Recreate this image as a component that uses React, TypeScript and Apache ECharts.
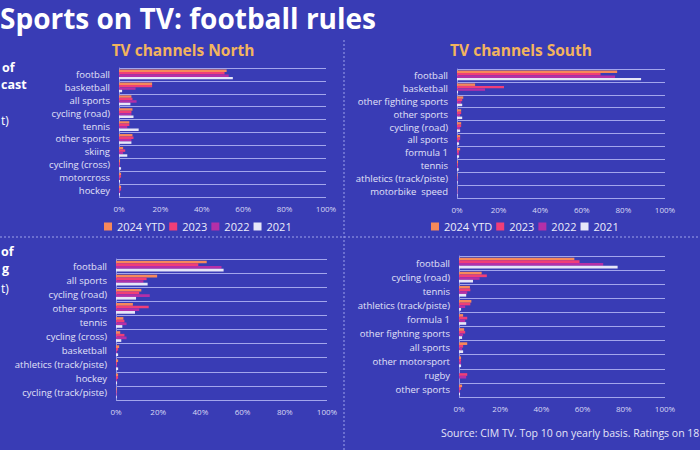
import React, { useEffect, useRef } from "react";
import * as echarts from "echarts";

const years = ["2024 YTD", "2023", "2022", "2021"];
const colors = ["#f7885a", "#f03e78", "#b42fa8", "#e6e6f8"];
const xTicks = [0, 20, 40, 60, 80, 100];

const northCats = ["football", "basketball", "all sports", "cycling (road)", "tennis", "other sports", "skiing", "cycling (cross)", "motorcross", "hockey"];
const north2024 = [52, 16, 6, 6.5, 5, 6.5, 2, 0.5, 1, 1];
const north2023 = [51, 16, 6.5, 6, 5, 7, 3, 0.5, 1, 1];
const north2022 = [53, 8, 8.5, 6, 4, 6, 2, 0.5, 0.5, 0.5];
const north2021 = [55, 1.5, 5.5, 7, 9.5, 6, 4, 1, 0.5, 0.5];

const southCats = ["football", "basketball", "other fighting sports", "other sports", "cycling (road)", "all sports", "formula 1", "tennis", "athletics (track/piste)", "motorbike  speed"];
const south2024 = [77, 8.7, 3, 2, 2, 1.5, 1.5, 0.5, 0.3, 0.2];
const south2023 = [69, 22.6, 2.5, 2, 2, 1.5, 1, 0.5, 0.3, 0.2];
const south2022 = [76, 13.5, 2, 1.5, 1.5, 1, 1, 0.5, 0.3, 0.2];
const south2021 = [88.5, 0.5, 2.5, 2.5, 1.5, 1, 1, 0.8, 0.3, 0.2];

const nViewCats = ["football", "all sports", "cycling (road)", "other sports", "tennis", "cycling (cross)", "basketball", "athletics (track/piste)", "hockey", "cycling (track/piste)"];
const nView2024 = [43, 19.5, 12, 8, 3.5, 2, 1.5, 1, 1, 0.3];
const nView2023 = [39, 14.5, 11, 15.5, 4, 4, 1, 0.5, 1, 0.3];
const nView2022 = [50, 13, 16, 11, 5, 5, 0.5, 0.5, 0.5, 0.3];
const nView2021 = [51, 15, 9.5, 9, 3, 2.5, 1, 1, 0.5, 0.3];

const sViewCats = ["football", "cycling (road)", "tennis", "athletics (track/piste)", "formula 1", "other fighting sports", "all sports", "other motorsport", "rugby", "other sports"];
const sView2024 = [56, 11, 5.3, 6, 2, 2.5, 4, 1, 0, 1.5];
const sView2023 = [58.5, 13.5, 5.5, 5.5, 4, 3, 2, 1, 4, 1];
const sView2022 = [70, 10, 4, 3, 3, 2, 1.5, 1, 3.5, 0.5];
const sView2021 = [77, 6.8, 3.5, 1, 3.5, 1.5, 2, 1, 0, 0.5];

const panels = [
  { cats: northCats, data: [north2024, north2023, north2022, north2021], grid: { left: 119, top: 68, width: 207, height: 129 } },
  { cats: southCats, data: [south2024, south2023, south2022, south2021], grid: { left: 457, top: 69, width: 208, height: 129 } },
  { cats: nViewCats, data: [nView2024, nView2023, nView2022, nView2021], grid: { left: 116, top: 259, width: 211, height: 141 } },
  { cats: sViewCats, data: [sView2024, sView2023, sView2022, sView2021], grid: { left: 459, top: 256, width: 206, height: 141 } },
];

const FONT = "Open Sans";

export default function App() {
  const ref = useRef<HTMLDivElement>(null);
  useEffect(() => {
    if (!ref.current) return;
    const chart = echarts.init(ref.current, undefined, { renderer: "svg" });
    const grids = panels.map((p) => ({ ...p.grid, containLabel: false }));
    const xAxes = panels.map((_, i) => ({
      type: "value",
      gridIndex: i,
      min: xTicks[0],
      max: xTicks[xTicks.length - 1],
      interval: 20,
      axisLine: { show: false },
      axisTick: { show: false },
      splitLine: { show: false },
      axisLabel: { color: "#d8d8f4", fontSize: 8, fontFamily: FONT, formatter: "{value}%", margin: 7 },
    }));
    const yAxes = panels.map((p, i) => ({
      type: "category",
      gridIndex: i,
      data: p.cats,
      inverse: true,
      axisLine: { show: true, lineStyle: { color: "#8e92e4", width: 1 } },
      axisTick: { show: false },
      splitLine: { show: true, interval: 0, lineStyle: { color: "#a3a6ec", width: 1 } },
      axisLabel: { color: "#e2e2f8", fontSize: 9.5, fontFamily: FONT, margin: 9, interval: 0 },
    }));
    const series: any[] = [];
    panels.forEach((p, i) => {
      years.forEach((y, k) => {
        series.push({
          type: "bar",
          name: y,
          xAxisIndex: i,
          yAxisIndex: i,
          data: p.data[k],
          itemStyle: { color: colors[k] },
          barGap: "0%",
          barCategoryGap: "24%",
        });
      });
    });
    const legendBase = {
      data: years,
      icon: "rect",
      itemWidth: 8,
      itemHeight: 8,
      itemGap: 4,
      textStyle: { color: "#ececfa", fontSize: 11, fontFamily: FONT },
      top: 216,
      selectedMode: false,
    };
    chart.setOption({
      animation: false,
      backgroundColor: "#393cb5",
      color: colors,
      grid: grids,
      xAxis: xAxes,
      yAxis: yAxes,
      series,
      legend: [
        { ...legendBase, left: 99 },
        { ...legendBase, left: 426 },
      ],
      graphic: [
        { type: "text", left: 0, top: 4, style: { text: "Sports on TV: football rules", fill: "#ffffff", font: `bold 28px '${FONT}'` } },
        { type: "text", x: 183, y: 50, style: { text: "TV channels North", fill: "#f2b45e", font: `bold 15.5px '${FONT}'`, align: "center", verticalAlign: "middle" } },
        { type: "text", x: 521, y: 50, style: { text: "TV channels South", fill: "#f2b45e", font: `bold 15.5px '${FONT}'`, align: "center", verticalAlign: "middle" } },
        { type: "text", x: 2, y: 67, style: { text: "of", fill: "#ffffff", font: `bold 12.5px '${FONT}'`, verticalAlign: "middle" } },
        { type: "text", x: 1, y: 84, style: { text: "cast", fill: "#ffffff", font: `bold 12.5px '${FONT}'`, verticalAlign: "middle" } },
        { type: "text", x: 1, y: 120, style: { text: "t)", fill: "#ffffff", font: `12px '${FONT}'`, verticalAlign: "middle" } },
        { type: "text", x: 1, y: 251, style: { text: "of", fill: "#ffffff", font: `bold 12.5px '${FONT}'`, verticalAlign: "middle" } },
        { type: "text", x: 2, y: 268, style: { text: "g", fill: "#ffffff", font: `bold 12.5px '${FONT}'`, verticalAlign: "middle" } },
        { type: "text", x: 1, y: 288, style: { text: "t)", fill: "#ffffff", font: `12px '${FONT}'`, verticalAlign: "middle" } },
        { type: "line", shape: { x1: 344, y1: 40, x2: 344, y2: 450 }, style: { stroke: "#9ea2ea", lineWidth: 1, lineDash: [2, 2] } },
        { type: "line", shape: { x1: 0, y1: 237, x2: 700, y2: 237 }, style: { stroke: "#9ea2ea", lineWidth: 1, lineDash: [2, 2] } },
        { type: "text", x: 441, y: 433, style: { text: "Source: CIM TV. Top 10 on yearly basis. Ratings on 18", fill: "#e4e4f8", font: `10.5px '${FONT}'`, verticalAlign: "middle" } },
      ],
    });
    return () => chart.dispose();
  }, []);
  return <div ref={ref} style={{ position: "fixed", left: 0, top: 0, width: 700, height: 450 }} />;
}
